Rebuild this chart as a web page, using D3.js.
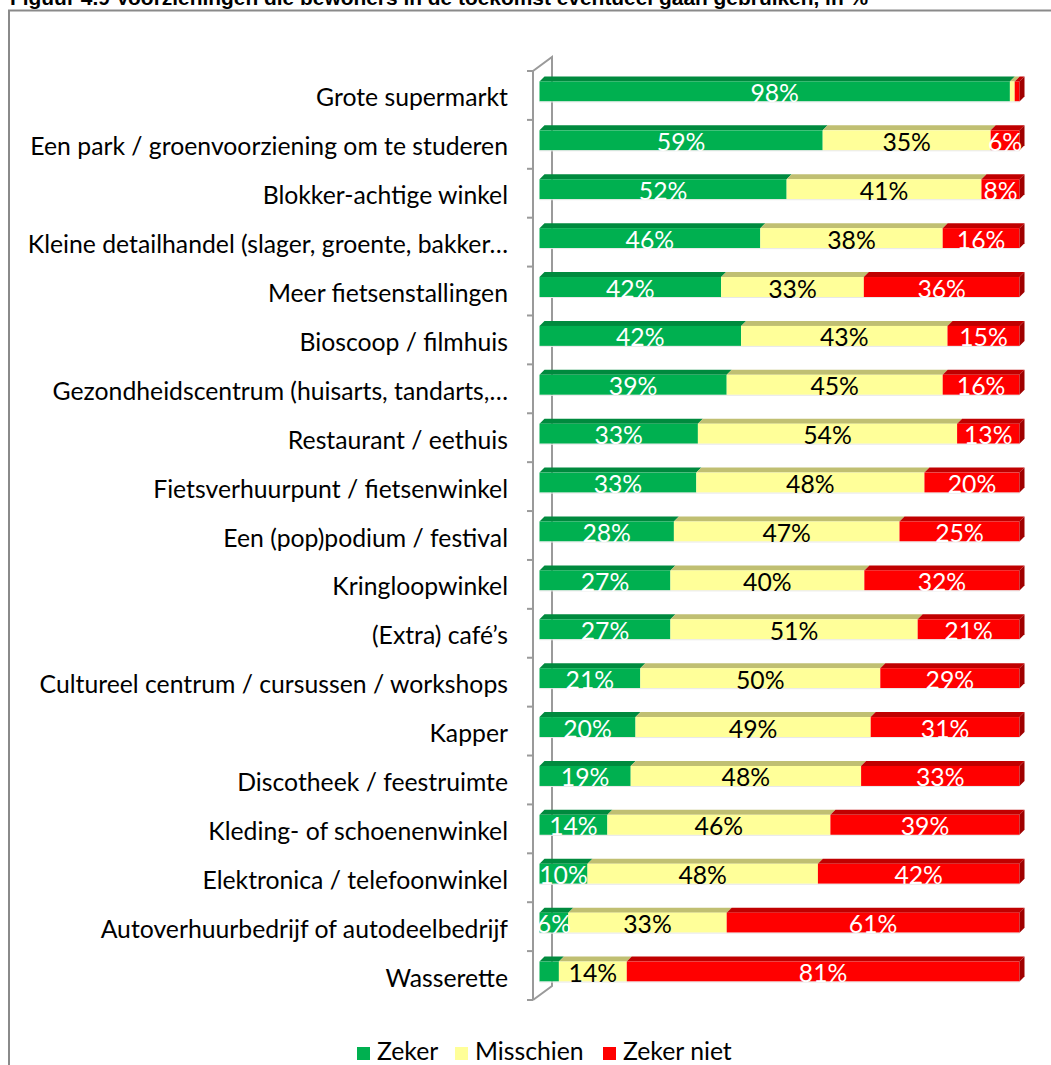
<!DOCTYPE html>
<html>
<head>
<meta charset="utf-8">
<script src="https://cdn.jsdelivr.net/npm/d3@7/dist/d3.min.js"></script>
<style>
  html, body { margin: 0; padding: 0; background: #fff; }
  svg { display: block; }
</style>
</head>
<body>
<svg id="chart" width="1051" height="1065"></svg>
<script>
const title = "Figuur 4.9 Voorzieningen die bewoners in de toekomst eventueel gaan gebruiken, in %";
const categories = [
  "Grote supermarkt",
  "Een park / groenvoorziening om te studeren",
  "Blokker-achtige winkel",
  "Kleine detailhandel (slager, groente, bakker\u2026",
  "Meer fietsenstallingen",
  "Bioscoop / filmhuis",
  "Gezondheidscentrum (huisarts, tandarts,\u2026",
  "Restaurant / eethuis",
  "Fietsverhuurpunt / fietsenwinkel",
  "Een (pop)podium / festival",
  "Kringloopwinkel",
  "(Extra) caf\u00e9\u2019s",
  "Cultureel centrum / cursussen / workshops",
  "Kapper",
  "Discotheek / feestruimte",
  "Kleding- of schoenenwinkel",
  "Elektronica / telefoonwinkel",
  "Autoverhuurbedrijf of autodeelbedrijf",
  "Wasserette"
];
const seriesNames = ["Zeker", "Misschien", "Zeker niet"];
const zeker     = [98, 59, 52, 46, 42, 42, 39, 33, 33, 28, 27, 27, 21, 20, 19, 14, 10, 6, 4];
const misschien = [1, 35, 41, 38, 33, 43, 45, 54, 48, 47, 40, 51, 50, 49, 48, 46, 48, 33, 14];
const zekerNiet = [1, 6, 8, 16, 36, 15, 16, 13, 20, 25, 32, 21, 29, 31, 33, 39, 42, 61, 81];
// values too small to get a data label in the original
const hiddenLabelBelow = 5;

const frontColors = ["#00B050", "#FFFF99", "#FF0000"];
const topColors   = ["#008A3E", "#C0BF72", "#C00000"];
const sideColors  = ["#007A35", "#B0B060", "#A00000"];
const labelColors = ["#ffffff", "#000000", "#ffffff"];

const svg = d3.select("#chart");
const FONT = "Lato, 'Open Sans', sans-serif";

function fitSize(text, family, weight, target) {
  const t = svg.append("text").attr("font-family", family).attr("font-weight", weight)
    .attr("font-size", 100).text(text);
  const w = t.node().getComputedTextLength();
  t.remove();
  return 100 * target / w;
}

// frame
svg.append("path")
  .attr("d", "M9,1070 V10.5 H1060")
  .attr("fill", "none").attr("stroke", "#8a8a8a").attr("stroke-width", 2);

// title (cut off by the top edge, as in the original)
const titleSize = fitSize("Figuur 4.9 Voorzieningen die bewoners", "'Liberation Sans', Arial, sans-serif", "bold", 388);
svg.append("text")
  .attr("x", 10).attr("y", 4.5)
  .attr("font-family", "'Liberation Sans', Arial, sans-serif")
  .attr("font-weight", "bold").attr("font-size", titleSize)
  .attr("fill", "#000").text(title);

// data
const rows = categories.map((c, i) => {
  const vals = [zeker[i], misschien[i], zekerNiet[i]];
  const total = d3.sum(vals);
  let acc = 0;
  const segs = vals.map((v, k) => {
    const s = { k, v, x0: acc / total, x1: (acc + v) / total };
    acc += v;
    return s;
  });
  return { c, segs };
});

// scales
const x = d3.scaleLinear().domain([0, 1]).range([539.5, 1019.5]);
const y = d3.scaleBand().domain(categories).range([71, 1000]).padding(0);
const step = y.step();
const barH = 20;
const dX = 5, dY = 5;
const barOffset = (step - barH) / 2 - 4;

// axis wall (3D)
const wallDX = 19, wallDY = 14;
const axisX = 533;
const axisG = svg.append("g").attr("stroke", "#9a9a9a").attr("stroke-width", 2).attr("fill", "none");
const yTop = y.range()[0], yBot = y.range()[1];
axisG.append("path").attr("d",
  `M${axisX},${yTop} V${yBot} M${axisX},${yTop} L${axisX + wallDX},${yTop - wallDY} V${yBot - wallDY} L${axisX},${yBot}`);
const boundaries = categories.map(c => y(c)).concat([yBot]);
axisG.selectAll("line.tick").data(boundaries).join("line")
  .attr("x1", axisX - 6).attr("x2", axisX).attr("y1", d => d).attr("y2", d => d);

// category labels
const labelSize = fitSize("Een park / groenvoorziening om te studeren", FONT, "normal", 478);
svg.append("g").selectAll("text").data(categories).join("text")
  .attr("x", 508).attr("y", d => y(d) + step / 2 + 1.5)
  .attr("text-anchor", "end").attr("dominant-baseline", "central")
  .attr("font-family", FONT).attr("font-size", labelSize).attr("fill", "#000")
  .text(d => d);

// bars
const barsG = svg.append("g");
rows.forEach(r => {
  const by = y(r.c) + barOffset;
  const g = barsG.append("g");
  r.segs.forEach(s => {
    const xa = x(s.x0), xb = x(s.x1);
    if (xb - xa <= 0) return;
    g.append("path")
      .attr("d", `M${xa},${by} L${xa + dX},${by - dY} L${xb + dX},${by - dY} L${xb},${by} Z`)
      .attr("fill", topColors[s.k]);
    g.append("rect").attr("x", xa).attr("y", by).attr("width", xb - xa).attr("height", barH)
      .attr("fill", frontColors[s.k]);
  });
  const last = r.segs[r.segs.length - 1];
  const xe = x(1);
  g.append("path")
    .attr("d", `M${xe},${by} L${xe + dX},${by - dY} L${xe + dX},${by + barH - dY} L${xe},${by + barH} Z`)
    .attr("fill", sideColors[last.k]);
  g.append("line").attr("x1", x(0)).attr("x2", xe).attr("y1", by + barH + 0.5).attr("y2", by + barH + 0.5)
    .attr("stroke", "#e8e8e8").attr("stroke-width", 1);
  r.segs.forEach(s => {
    if (s.v <= hiddenLabelBelow) return;
    g.append("text")
      .attr("x", (x(s.x0) + x(s.x1)) / 2).attr("y", by + barH / 2 + 1)
      .attr("text-anchor", "middle").attr("dominant-baseline", "central")
      .attr("font-family", FONT).attr("font-size", labelSize)
      .attr("fill", labelColors[s.k]).text(s.v + "%");
  });
});

// legend
const legendX = [357, 455, 603];
const lg = svg.append("g");
seriesNames.forEach((n, k) => {
  lg.append("rect").attr("x", legendX[k]).attr("y", 1047).attr("width", 13).attr("height", 13)
    .attr("fill", frontColors[k]);
  lg.append("text").attr("x", legendX[k] + 20).attr("y", 1060)
    .attr("font-family", FONT).attr("font-size", labelSize).attr("fill", "#000").text(n);
});
</script>
</body>
</html>
